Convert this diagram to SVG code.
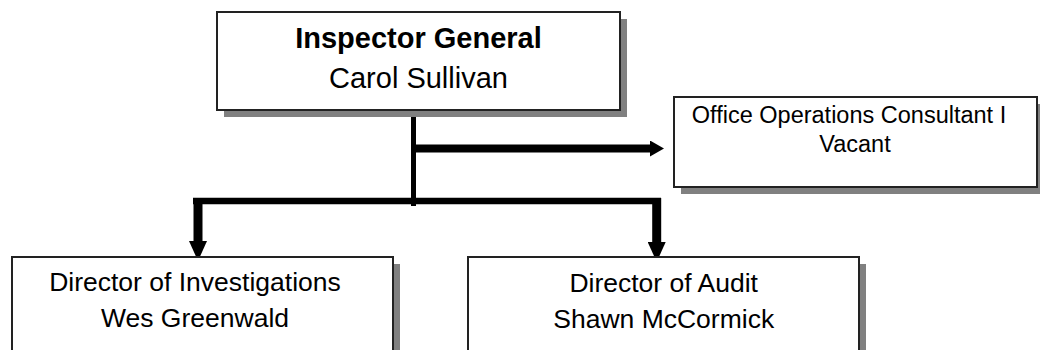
<svg xmlns="http://www.w3.org/2000/svg" width="1040" height="350" viewBox="0 0 1040 350">
<style>
.box{fill:#fff;stroke:#222;stroke-width:2}
.shadow{fill:#808080}
.t{font-family:"Liberation Sans",Arial,sans-serif;fill:#000;text-anchor:middle}
.b{font-weight:bold}
.conn{stroke:#000;fill:none;stroke-linecap:butt}
</style>
<defs>
<marker id="ahR" markerUnits="userSpaceOnUse" markerWidth="14" markerHeight="16" refX="0" refY="8" orient="auto">
<path d="M0,0 L14,8 L0,16 z" fill="#000"/>
</marker>
<marker id="ahD" markerUnits="userSpaceOnUse" markerWidth="20" markerHeight="18" refX="0" refY="9" orient="auto">
<path d="M0,0 L20,9 L0,18 z" fill="#000"/>
</marker>
</defs>
<rect width="1040" height="350" fill="#fff"/>
<g id="connectors">
<line class="conn" x1="413.5" y1="110" x2="413.5" y2="206" stroke-width="5"/>
<line class="conn" x1="416" y1="148.5" x2="650" y2="148.5" stroke-width="8" marker-end="url(#ahR)"/>
<line class="conn" x1="193" y1="201" x2="661" y2="201" stroke-width="6.5"/>
<line class="conn" x1="198" y1="198" x2="198" y2="241" stroke-width="9" marker-end="url(#ahD)"/>
<line class="conn" x1="656.7" y1="198" x2="656.7" y2="242" stroke-width="9" marker-end="url(#ahD)"/>
</g>
<g id="node-inspector-general">
<rect class="shadow" x="224" y="19" width="403" height="98"/>
<rect class="box" x="217" y="12" width="403" height="98"/>
<text class="t b" x="418.5" y="48.3" font-size="29">Inspector General</text>
<text class="t" x="418.5" y="88" font-size="29">Carol Sullivan</text>
</g>
<g id="node-office-operations">
<rect class="shadow" x="681" y="104" width="363" height="90"/>
<rect class="box" x="674" y="97" width="363" height="90"/>
<text class="t" x="849" y="123.3" font-size="23.5">Office Operations Consultant I</text>
<text class="t" x="855" y="151.5" font-size="23.5">Vacant</text>
</g>
<g id="node-director-investigations">
<rect class="shadow" x="19" y="264" width="381" height="120"/>
<rect class="box" x="12" y="257" width="381" height="120"/>
<text class="t" x="195" y="290.5" font-size="26.5">Director of Investigations</text>
<text class="t" x="195" y="327" font-size="26.5">Wes Greenwald</text>
</g>
<g id="node-director-audit">
<rect class="shadow" x="475" y="264" width="391" height="120"/>
<rect class="box" x="468" y="257" width="391" height="120"/>
<text class="t" x="663.7" y="291.5" font-size="26.5">Director of Audit</text>
<text class="t" x="663.7" y="328" font-size="26.5">Shawn McCormick</text>
</g>
</svg>
